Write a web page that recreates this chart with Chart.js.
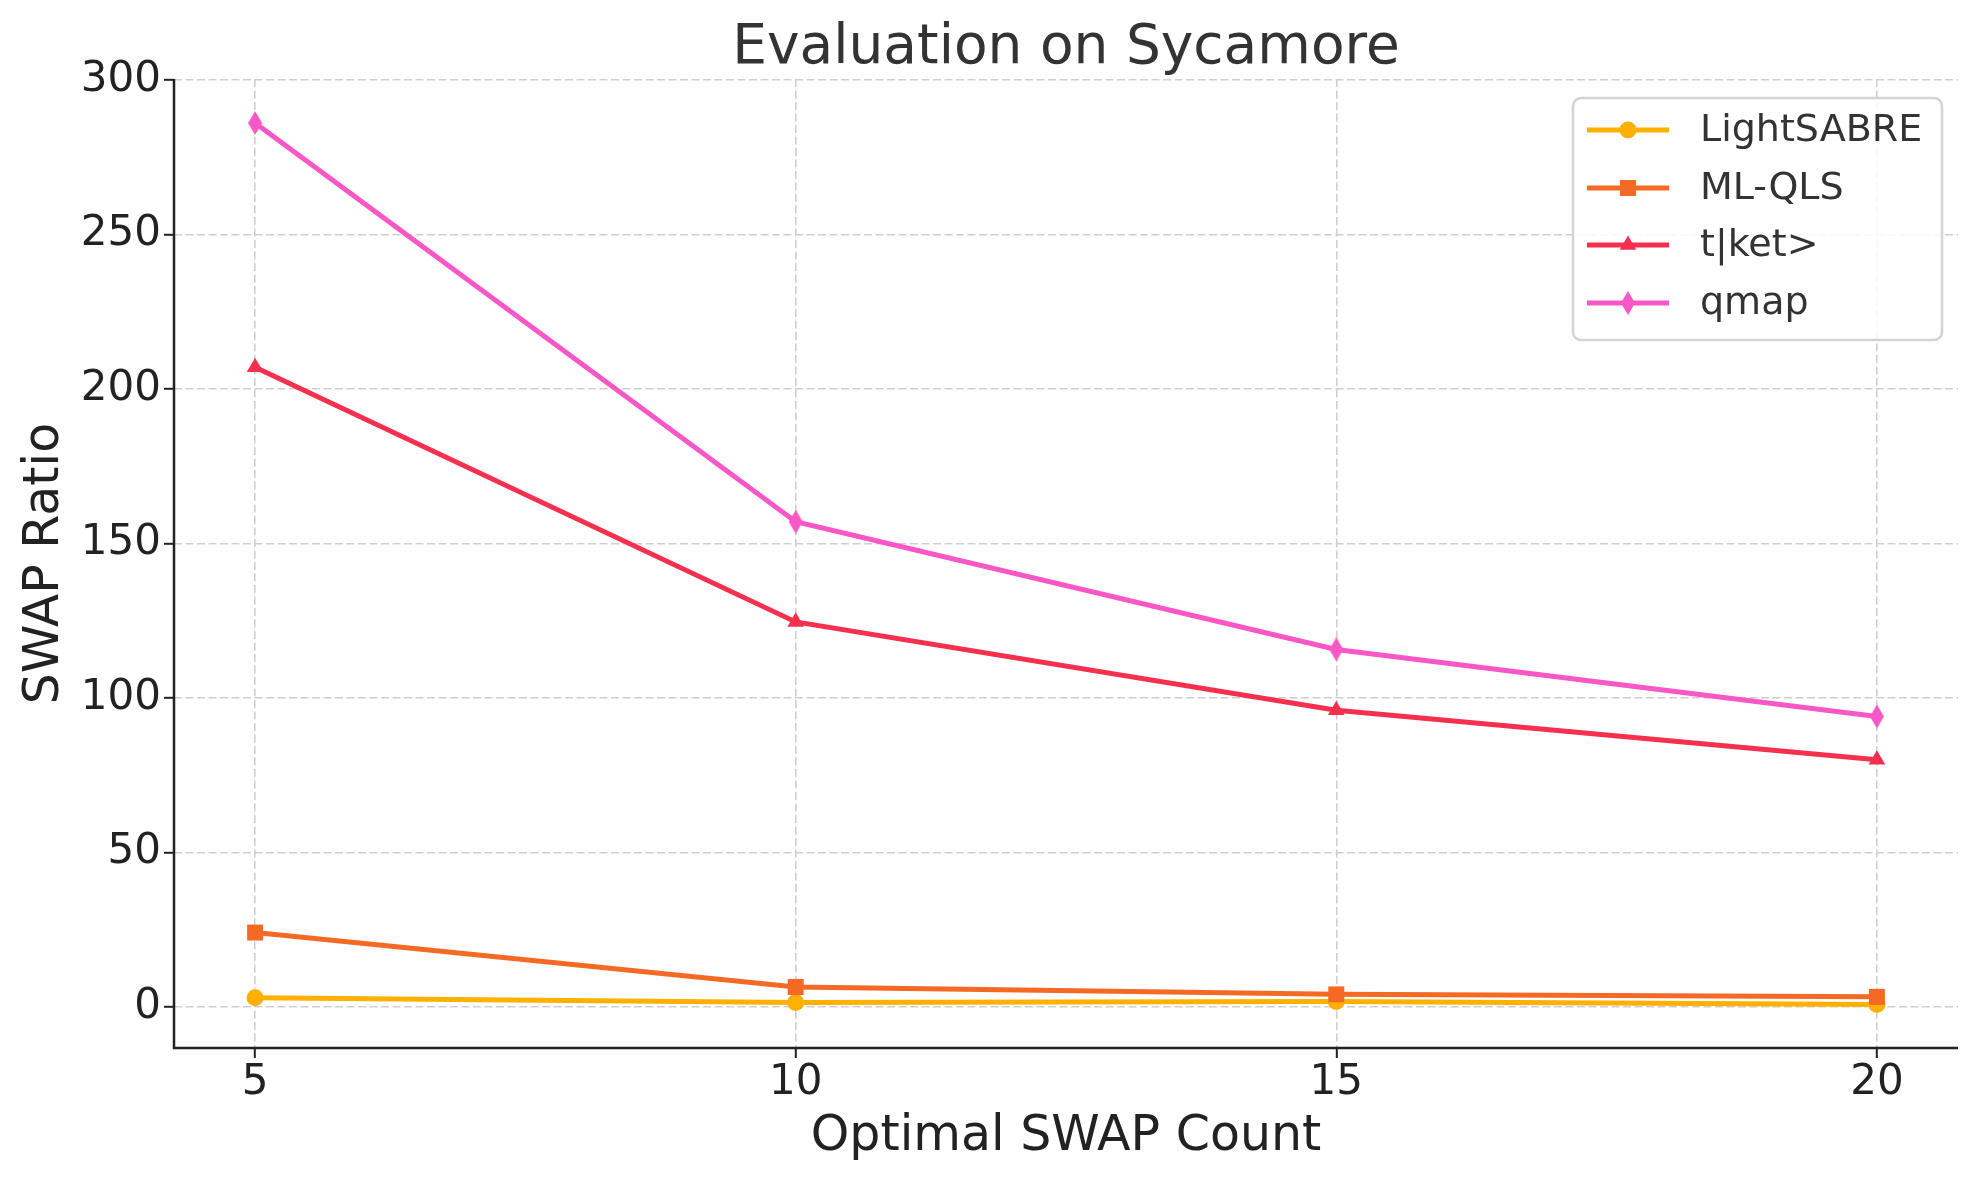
<!DOCTYPE html>
<html>
<head>
<meta charset="utf-8">
<script src="https://cdn.jsdelivr.net/npm/chart.js@4"></script>
<style>
  html, body { margin: 0; padding: 0; background: #ffffff; }
  #wrap { width: 1980px; height: 1180px; }
</style>
</head>
<body>
<div id="wrap"><canvas id="c" width="1980" height="1180"></canvas></div>
<script>
// ---- data ----
const categories = [5, 10, 15, 20];
const lightSabre = [3.0, 1.5, 1.8, 0.8];
const mlQls = [24.1, 6.5, 4.1, 3.3];
const tket = [207, 124.6, 96, 80];
const qmap = [286, 157, 115.7, 94];
const seriesNames = ['LightSABRE', 'ML-QLS', 't|ket>', 'qmap'];
const xTicks = [5, 10, 15, 20];
const yTicks = [0, 50, 100, 150, 200, 250, 300];
const chartTitle = 'Evaluation on Sycamore';

const colors = ['#FFB000', '#F46A25', '#F5304F', '#F957C6'];
const FONT = "'DejaVu Sans', 'Liberation Sans', sans-serif";

function thinDiamond(color, w, h) {
  const cv = document.createElement('canvas');
  cv.width = w; cv.height = h;
  const g = cv.getContext('2d');
  g.fillStyle = color;
  g.beginPath();
  g.moveTo(w / 2, 0); g.lineTo(w, h / 2); g.lineTo(w / 2, h); g.lineTo(0, h / 2);
  g.closePath(); g.fill();
  return cv;
}
const diamondImg = thinDiamond(colors[3], 14, 24);

const pointStyles = ['circle', 'rect', 'triangle', diamondImg];
const pointRadii = [8.5, 11.3, 9.6, 12];
const seriesValues = [lightSabre, mlQls, tket, qmap];

const datasets = seriesValues.map((vals, i) => ({
  label: seriesNames[i],
  data: categories.map((c, j) => ({ x: c, y: vals[j] })),
  borderColor: colors[i],
  backgroundColor: colors[i],
  borderWidth: 5,
  pointStyle: pointStyles[i],
  pointRadius: pointRadii[i],
  pointBorderWidth: 0,
  pointHoverRadius: pointRadii[i],
  tension: 0,
  order: 4 - i,
  clip: false
}));

function drawMarker(ctx, style, color, x, y, r) {
  ctx.save();
  ctx.fillStyle = color;
  if (style instanceof HTMLCanvasElement) {
    ctx.drawImage(style, x - style.width / 2, y - style.height / 2);
  } else {
    ctx.beginPath();
    if (style === 'circle') {
      ctx.arc(x, y, r, 0, Math.PI * 2);
    } else if (style === 'rect') {
      const s = r * Math.SQRT1_2;
      ctx.rect(x - s, y - s, 2 * s, 2 * s);
    } else if (style === 'triangle') {
      ctx.moveTo(x, y - r);
      ctx.lineTo(x + r * Math.sin(Math.PI / 3), y + r / 2);
      ctx.lineTo(x - r * Math.sin(Math.PI / 3), y + r / 2);
      ctx.closePath();
    }
    ctx.fill();
  }
  ctx.restore();
}

// left and bottom spines (solid), drawn after the dashed grid
const spinePlugin = {
  id: 'spines',
  beforeDatasetsDraw(chart) {
    const ctx = chart.ctx;
    const a = chart.chartArea;
    ctx.save();
    ctx.setLineDash([]);
    ctx.strokeStyle = '#222222';
    ctx.lineWidth = 2.5;
    ctx.beginPath();
    ctx.moveTo(a.left, a.top);
    ctx.lineTo(a.left, a.bottom);
    ctx.lineTo(a.right, a.bottom);
    ctx.stroke();
    ctx.restore();
  }
};

// title centred over the plot area (as matplotlib does)
const titlePlugin = {
  id: 'axTitle',
  afterDraw(chart) {
    const ctx = chart.ctx;
    const a = chart.chartArea;
    ctx.save();
    ctx.fillStyle = '#333333';
    ctx.font = '55px ' + FONT;
    ctx.textAlign = 'center';
    ctx.textBaseline = 'alphabetic';
    ctx.fillText(chartTitle, (a.left + a.right) / 2, 63);
    ctx.restore();
  }
};

const legendPlugin = {
  id: 'mplLegend',
  afterDraw(chart) {
    const ctx = chart.ctx;
    const x0 = 1573, y0 = 98, w = 369, h = 242;
    ctx.save();
    ctx.beginPath();
    ctx.roundRect(x0, y0, w, h, 8);
    ctx.fillStyle = 'rgba(255,255,255,0.85)';
    ctx.fill();
    ctx.lineWidth = 2.5;
    ctx.strokeStyle = '#d4d4d4';
    ctx.stroke();
    const rows = [130, 188, 245, 303];
    chart.data.datasets.forEach((ds, i) => {
      const yy = rows[i];
      ctx.beginPath();
      ctx.moveTo(1587, yy); ctx.lineTo(1669, yy);
      ctx.strokeStyle = ds.borderColor; ctx.lineWidth = 5;
      ctx.stroke();
      drawMarker(ctx, ds.pointStyle, ds.backgroundColor, 1628, yy, ds.pointRadius);
      ctx.fillStyle = '#333333';
      ctx.font = '38px ' + FONT;
      ctx.textAlign = 'left';
      ctx.textBaseline = 'middle';
      ctx.fillText(ds.label, 1700, yy + 1);
    });
    ctx.restore();
  }
};

const gridOpts = {
  color: '#cfcfcf',
  lineWidth: 1.6,
  drawTicks: true,
  tickLength: 10,
  tickColor: '#222222',
  tickWidth: 2,
  tickBorderDash: []
};

new Chart(document.getElementById('c'), {
  type: 'line',
  data: { datasets },
  plugins: [spinePlugin, titlePlugin, legendPlugin],
  options: {
    responsive: false,
    devicePixelRatio: 1,
    animation: false,
    events: [],
    layout: { padding: { left: 0, right: 22, top: 79, bottom: 0 } },
    plugins: {
      legend: { display: false },
      tooltip: { enabled: false },
      title: { display: false }
    },
    scales: {
      x: {
        type: 'linear',
        min: 4.25,
        max: 20.75,
        afterBuildTicks: (s) => { s.ticks = xTicks.map(v => ({ value: v })); },
        afterFit: (s) => { s.height = 132; },
        ticks: {
          color: '#222222',
          font: { family: FONT, size: 42 },
          padding: 0,
          maxRotation: 0,
          autoSkip: false
        },
        grid: Object.assign({}, gridOpts),
        border: { display: false, dash: [8, 3.5] },
        title: {
          display: true,
          text: 'Optimal SWAP Count',
          color: '#222222',
          font: { family: FONT, size: 49, lineHeight: 1.2 },
          padding: { top: 0, bottom: 13 }
        }
      },
      y: {
        type: 'linear',
        min: -13.25,
        max: 300.25,
        afterBuildTicks: (s) => { s.ticks = yTicks.map(v => ({ value: v })); },
        afterFit: (s) => { s.width = 174; },
        ticks: {
          color: '#222222',
          font: { family: FONT, size: 42 },
          padding: 3
        },
        grid: Object.assign({}, gridOpts),
        border: { display: false, dash: [8, 3.5] },
        title: {
          display: true,
          text: 'SWAP Ratio',
          color: '#222222',
          font: { family: FONT, size: 49, lineHeight: 1.2 },
          padding: { top: 16, bottom: 0 }
        }
      }
    }
  }
});
</script>
</body>
</html>
